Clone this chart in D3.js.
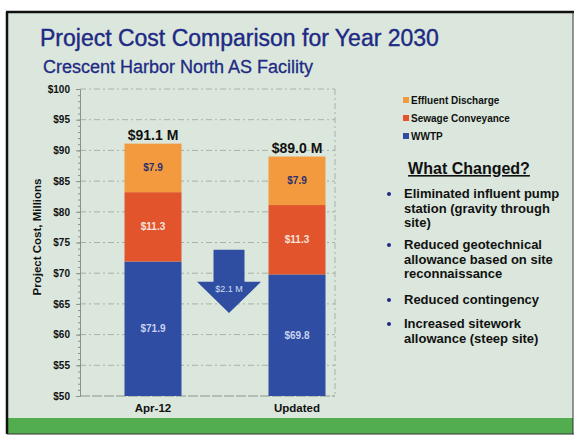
<!DOCTYPE html>
<html>
<head>
<meta charset="utf-8">
<script src="https://cdn.jsdelivr.net/npm/d3@7"></script>
<style>
  body { margin: 0; background: #fff; }
  svg { display: block; font-family: "Liberation Sans", Arial, sans-serif; }
</style>
</head>
<body>
<script>
// chart data
const categories = ["Apr-12", "Updated"];
const wwtp = [71.9, 69.8];
const sewage = [11.3, 11.3];
const effluent = [7.9, 7.9];
const totalLabels = ["$91.1 M", "$89.0 M"];
const yTicks = [50, 55, 60, 65, 70, 75, 80, 85, 90, 95, 100];
const seriesNames = ["Effluent Discharge", "Sewage Conveyance", "WWTP"];
const colors = {"WWTP": "#2f4da3", "Sewage Conveyance": "#e2552c", "Effluent Discharge": "#f49a3e"};
const labelColors = {"WWTP": "#c9d3f0", "Sewage Conveyance": "#f6e2dc", "Effluent Discharge": "#2a2f6e"};
const arrowLabel = "$2.1 M";
const arrowTop = 73.8, arrowHead = 68.6, arrowTip = 63.5;
const bullets = [
  ["Eliminated influent pump", "station (gravity through", "site)"],
  ["Reduced geotechnical", "allowance based on site", "reconnaissance"],
  ["Reduced contingency"],
  ["Increased sitework", "allowance (steep site)"]
];

const W = 576, H = 437;
const svg = d3.select("body").append("svg").attr("width", W).attr("height", H);

// slide background + frame
svg.append("rect").attr("x", 7).attr("y", 12).attr("width", 566).attr("height", 422).attr("fill", "#dbe7dc");
svg.append("rect").attr("x", 7).attr("y", 418).attr("width", 566).attr("height", 16).attr("fill", "#52ad4f");
svg.append("line").attr("x1", 6).attr("x2", 574).attr("y1", 12).attr("y2", 12).attr("stroke", "#111").attr("stroke-width", 2.5);
svg.append("line").attr("x1", 7).attr("x2", 7).attr("y1", 12).attr("y2", 434).attr("stroke", "#111").attr("stroke-width", 2.5);
svg.append("line").attr("x1", 573).attr("x2", 573).attr("y1", 12).attr("y2", 434).attr("stroke", "#333").attr("stroke-width", 1);
svg.append("line").attr("x1", 7).attr("x2", 574).attr("y1", 434).attr("y2", 434).attr("stroke", "#333").attr("stroke-width", 1);

// titles
svg.append("text").attr("x", 40).attr("y", 46).attr("fill", "#1e2a84")
  .style("font-size", "23px").style("font-weight", "500").attr("stroke", "#1e2a84").attr("stroke-width", 0.4)
  .text("Project Cost Comparison for Year 2030");
svg.append("text").attr("x", 43).attr("y", 73).attr("fill", "#1e2a84")
  .style("font-size", "18px").attr("stroke", "#1e2a84").attr("stroke-width", 0.3)
  .text("Crescent Harbor North AS Facility");

// scales
const y = d3.scaleLinear().domain([50, 100]).range([396, 89]);
const x = d3.scalePoint().domain(categories).range([153, 297]);
const barW = 57;
const plotL = 80, plotR = 335;

// gridlines
svg.append("g").selectAll("line").data(yTicks.slice(1)).join("line")
  .attr("x1", plotL).attr("x2", plotR)
  .attr("y1", d => y(d)).attr("y2", d => y(d))
  .attr("stroke", "#9aa39a").attr("stroke-width", 0.8).attr("stroke-dasharray", "6,3,2,3");
svg.append("line").attr("x1", plotL).attr("x2", plotR).attr("y1", y(50)).attr("y2", y(50))
  .attr("stroke", "#8a938a").attr("stroke-width", 1).attr("stroke-dasharray", "10,2");
svg.append("line").attr("x1", plotR).attr("x2", plotR).attr("y1", y(100)).attr("y2", y(50))
  .attr("stroke", "#9aa39a").attr("stroke-width", 0.8).attr("stroke-dasharray", "6,3,2,3");

// y axis
const yAxis = d3.axisLeft(y).tickValues(yTicks).tickFormat(d => "$" + d).tickSize(4);
const ga = svg.append("g").attr("transform", `translate(${plotL},0)`).call(yAxis);
ga.select(".domain").attr("stroke", "#8a938a");
ga.selectAll(".tick line").attr("stroke", "#8a938a");
ga.selectAll(".tick text").attr("x", -10).attr("fill", "#111")
  .style("font-size", "10px").style("font-weight", "bold").style("font-family", "'Liberation Sans', Arial, sans-serif");
svg.append("g").attr("transform", `translate(${plotL},0)`)
  .call(d3.axisLeft(y).ticks(50).tickFormat("").tickSize(2))
  .call(g => g.select(".domain").remove())
  .selectAll("line").attr("stroke", "#8a938a");

svg.append("text").attr("transform", `translate(41,237) rotate(-90)`)
  .attr("text-anchor", "middle").attr("fill", "#111")
  .style("font-size", "11.5px").style("font-weight", "bold").text("Project Cost, Millions");

// stacked bars
const rows = categories.map((c, i) => ({cat: c, "WWTP": wwtp[i], "Sewage Conveyance": sewage[i], "Effluent Discharge": effluent[i]}));
const stack = d3.stack().keys(["WWTP", "Sewage Conveyance", "Effluent Discharge"])(rows);
const clip = v => Math.max(v, 50);

stack.forEach(s => {
  const g = svg.append("g");
  g.selectAll("rect").data(s).join("rect")
    .attr("x", d => x(d.data.cat) - barW / 2)
    .attr("width", barW)
    .attr("y", d => y(d[1]))
    .attr("height", d => y(clip(d[0])) - y(d[1]))
    .attr("fill", colors[s.key]);
  g.selectAll("text").data(s).join("text")
    .attr("x", d => x(d.data.cat))
    .attr("y", d => (y(clip(d[0])) + y(d[1])) / 2 + 3.5)
    .attr("text-anchor", "middle").attr("fill", labelColors[s.key])
    .style("font-size", "10px").style("font-weight", "bold")
    .text(d => "$" + (d[1] - d[0]).toFixed(1));
});

// total labels
svg.append("g").selectAll("text").data(categories).join("text")
  .attr("x", d => x(d)).attr("y", (d, i) => y(wwtp[i] + sewage[i] + effluent[i]) - 4)
  .attr("text-anchor", "middle").attr("fill", "#111")
  .style("font-size", "14px").style("font-weight", "bold")
  .text((d, i) => totalLabels[i]);

// category labels
svg.append("g").selectAll("text").data(categories).join("text")
  .attr("x", d => x(d)).attr("y", 412)
  .attr("text-anchor", "middle").attr("fill", "#111")
  .style("font-size", "11.5px").style("font-weight", "bold").text(d => d);

// arrow
const ax = (x(categories[0]) + x(categories[1])) / 2 + 4;
const arrow = d3.path();
arrow.moveTo(ax - 15.5, y(arrowTop));
arrow.lineTo(ax + 15.5, y(arrowTop));
arrow.lineTo(ax + 15.5, y(arrowHead));
arrow.lineTo(ax + 32, y(arrowHead));
arrow.lineTo(ax, y(arrowTip));
arrow.lineTo(ax - 32, y(arrowHead));
arrow.lineTo(ax - 15.5, y(arrowHead));
arrow.closePath();
svg.append("path").attr("d", arrow.toString()).attr("fill", "#2f4ea2");
svg.append("text").attr("x", ax).attr("y", y(arrowHead) + 10)
  .attr("text-anchor", "middle").attr("fill", "#d4dcf3")
  .style("font-size", "9px").text(arrowLabel);

// legend
const leg = svg.append("g").selectAll("g").data(seriesNames).join("g")
  .attr("transform", (d, i) => `translate(403,${104 + i * 18})`);
leg.append("rect").attr("x", 0).attr("y", -7).attr("width", 6).attr("height", 6)
  .attr("fill", d => colors[d]);
leg.append("text").attr("x", 8).attr("y", 0).attr("fill", "#111")
  .style("font-size", "10px").style("font-weight", "bold").text(d => d);

// what changed panel
svg.append("text").attr("x", 469).attr("y", 174).attr("text-anchor", "middle")
  .attr("fill", "#111").style("font-size", "16px").style("font-weight", "bold")
  .style("text-decoration", "underline").text("What Changed?");

const bulletY = [198, 249, 304, 328];
bullets.forEach((lines, i) => {
  svg.append("circle").attr("cx", 389).attr("cy", bulletY[i] - 4).attr("r", 2).attr("fill", "#1e2a84");
  svg.append("g").selectAll("text").data(lines).join("text")
    .attr("x", 404).attr("y", (d, j) => bulletY[i] + j * 14.5)
    .attr("fill", "#111").style("font-size", "13px").style("font-weight", "bold")
    .text(d => d);
});
</script>
</body>
</html>
